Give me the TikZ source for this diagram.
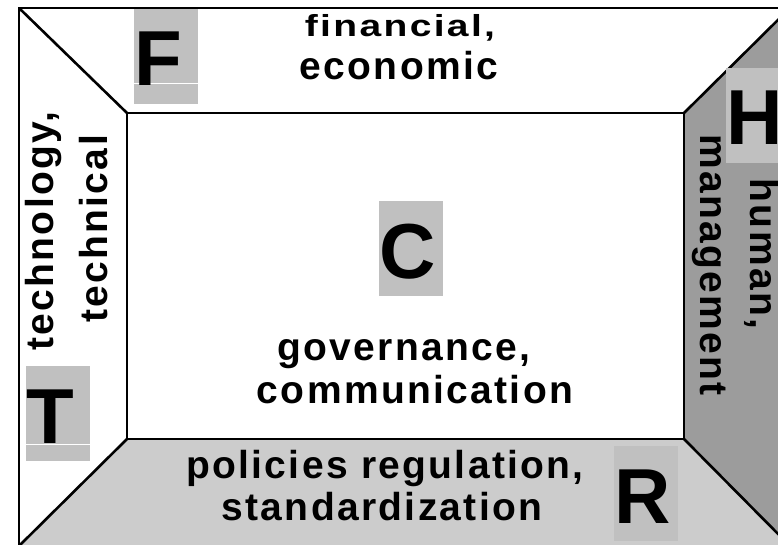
\documentclass[tikz,border=0pt]{standalone}
\usepackage{graphicx}
\usepackage{fontspec}
\setmainfont{Liberation Sans}
\newfontfamily\lblfont[LetterSpace=6]{Liberation Sans Bold}
\newfontfamily\bigfont{Liberation Sans Bold}
\definecolor{hgray}{RGB}{156,156,156}
\definecolor{rgray}{RGB}{204,204,204}
\definecolor{boxgray}{RGB}{192,192,192}
\begin{document}
\begin{tikzpicture}[x=1pt,y=-1pt,
  edge/.style={draw=black,line width=2.6pt,line join=miter},
  lbl/.style={font=\lblfont\fontsize{39}{46}\selectfont,inner sep=0pt,anchor=base},
  lbox/.style={fill=boxgray,draw=none,minimum width=64pt,minimum height=95pt,inner sep=0pt,anchor=north west},
  letter/.style={font=\bigfont\fontsize{78}{90}\selectfont,inner sep=0pt,anchor=base west},
  gap/.style={draw=white,line width=1pt}]
\useasboundingbox (0,0) rectangle (778,545);
\clip (0,0) rectangle (778,545);
% corners
\coordinate (O1) at (19,8);
\coordinate (O2) at (790,8);
\coordinate (O3) at (790,546);
\coordinate (O4) at (19,546);
\coordinate (I1) at (127,113);
\coordinate (I2) at (684,113);
\coordinate (I3) at (684,439);
\coordinate (I4) at (127,439);
% regions
\fill[white] (O1) rectangle (O3);
\fill[hgray] (O2) -- (I2) -- (I3) -- (O3) -- cycle;
\fill[rgray] (O4) -- (I4) -- (I3) -- (O3) -- cycle;
% outlines
\draw[edge] (O1) rectangle (O3);
\draw[edge] (I1) rectangle (I3);
\draw[edge] (O1) -- (I1);
\draw[edge] (O2) -- (I2);
\draw[edge] (O3) -- (I3);
\draw[edge] (O4) -- (I4);
% letter boxes
\node[lbox] (Fbox) at (134,9) {};
\draw[gap] (134,84) -- (198,84);
\node[letter] (F) at (134,86) {F};
\node[lbox] (Tbox) at (26,366) {};
\draw[gap] (26,444) -- (90,444);
\node[letter] (T) at (26,443) {T};
\node[lbox] (Cbox) at (379,201) {};
\node[letter] (C) at (379,278) {C};
\node[lbox] (Rbox) at (614,446) {};
\node[letter] (R) at (614,523) {R};
\node[lbox] (Hbox) at (726,68) {};
\node[letter] (H) at (726,145) {H};
% labels
\node[lbl] (fin) at (400,37) {\scalebox{1}[0.78]{financial,}};
\node[lbl] (eco) at (399,80) {economic};
\node[lbl] (gov) at (404,360) {governance,};
\node[lbl] (com) at (415,403) {communication};
\node[lbl] (pol) at (385,478) {policies regulation,};
\node[lbl] (sta) at (382,520) {standardization};
\node[lbl,rotate=90] (tgy) at (53,231) {technology,};
\node[lbl,rotate=90] (tcl) at (107,229) {technical};
\node[lbl,rotate=-90] (hum) at (750,254) {human,};
\node[lbl,rotate=-90] (mgt) at (700,265) {management};
\end{tikzpicture}
\end{document}
